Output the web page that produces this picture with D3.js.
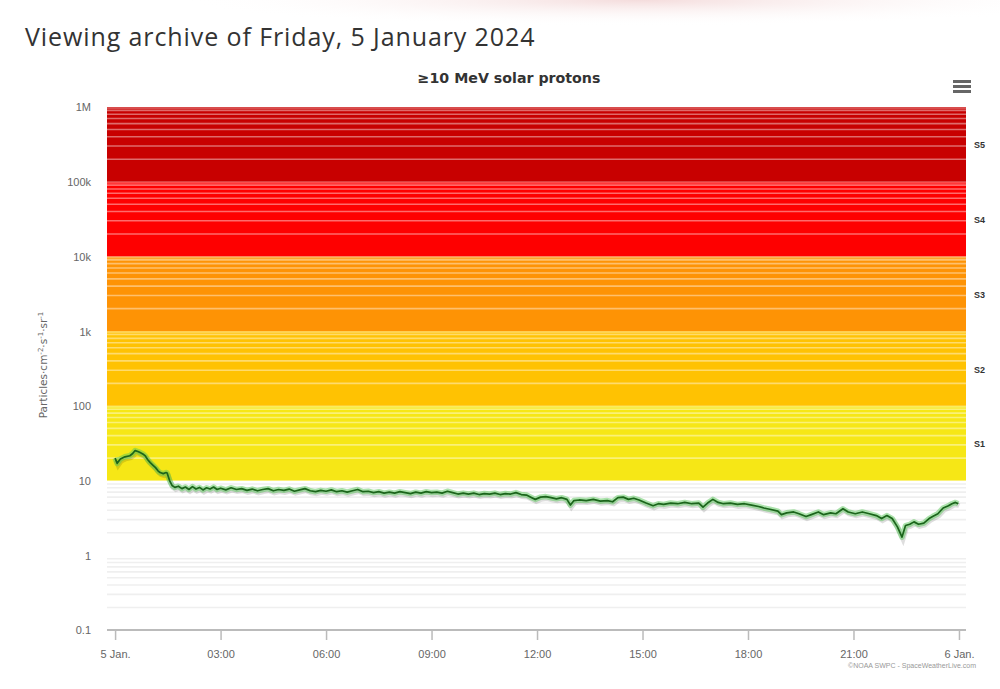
<!DOCTYPE html>
<html>
<head>
<meta charset="utf-8">
<script src="https://cdn.jsdelivr.net/npm/d3@7"></script>
<style>
  html, body { margin: 0; padding: 0; background: #fff; }
  svg { display: block; }
</style>
</head>
<body>
<svg id="chart" width="1000" height="689"></svg>
<script>
// ---- data ----
const pageTitle = "Viewing archive of Friday, 5 January 2024";
const chartTitle = "≥10 MeV solar protons";
const yAxisTitleParts = [["Particles·cm", false], ["-2", true], ["·s", false], ["-1", true], ["·sr", false], ["-1", true]];
const credit = "©NOAA SWPC - SpaceWeatherLive.com";

const yTickValues = [0.1, 1, 10, 100, 1000, 10000, 100000, 1000000];
const yTickLabels = ["0.1", "1", "10", "100", "1k", "10k", "100k", "1M"];

const xTickHours = [0, 3, 6, 9, 12, 15, 18, 21, 24];
const xTickLabels = ["5 Jan.", "03:00", "06:00", "09:00", "12:00", "15:00", "18:00", "21:00", "6 Jan."];

const zoneNames = ["S1", "S2", "S3", "S4", "S5"];
const zoneLow = [10, 100, 1000, 10000, 100000];
const zoneHigh = [100, 1000, 10000, 100000, 1000000];
const zoneColors = ["#f6e716", "#ffc202", "#fe9305", "#fe0000", "#c80000"];

const hours = [0.00,0.06,0.15,0.28,0.42,0.50,0.57,0.65,0.71,0.80,0.85,0.93,1.00,1.08,1.15,1.22,1.28,1.37,1.45,1.48,1.55,1.62,1.70,1.80,1.90,2.00,2.10,2.20,2.30,2.40,2.50,2.60,2.70,2.80,2.90,3.00,3.15,3.30,3.45,3.60,3.75,3.90,4.05,4.20,4.35,4.50,4.65,4.80,4.95,5.10,5.25,5.40,5.55,5.70,5.85,6.00,6.15,6.30,6.45,6.60,6.75,6.90,7.05,7.20,7.35,7.50,7.65,7.80,7.95,8.10,8.25,8.40,8.55,8.70,8.85,9.00,9.15,9.30,9.45,9.60,9.75,9.90,10.05,10.20,10.35,10.50,10.65,10.80,10.95,11.10,11.25,11.40,11.55,11.70,11.85,11.95,12.10,12.25,12.40,12.55,12.70,12.85,12.95,13.05,13.20,13.40,13.60,13.80,14.00,14.15,14.30,14.45,14.60,14.75,14.90,15.10,15.30,15.45,15.60,15.80,16.00,16.20,16.40,16.60,16.72,16.85,17.00,17.15,17.30,17.50,17.70,17.90,18.10,18.30,18.45,18.65,18.85,18.95,19.10,19.30,19.45,19.65,19.80,20.00,20.15,20.35,20.50,20.70,20.85,21.05,21.25,21.45,21.65,21.80,21.95,22.10,22.25,22.38,22.48,22.60,22.72,22.85,23.00,23.15,23.25,23.40,23.55,23.70,23.80,23.90,23.98];
const flux = [20.0,17.0,19.5,20.8,21.5,23.0,25.2,24.5,23.7,22.5,21.6,19.0,17.4,16.0,14.9,13.5,12.8,12.4,12.8,12.6,10.0,8.6,8.1,8.4,7.8,8.2,7.6,8.3,7.7,8.1,7.5,8.0,7.7,8.2,7.6,7.9,7.5,8.0,7.6,7.8,7.4,7.7,7.3,7.6,7.8,7.3,7.6,7.4,7.7,7.2,7.5,7.8,7.3,7.1,7.4,7.2,7.5,7.1,7.3,7.0,7.3,7.6,7.1,7.2,6.9,7.1,6.8,7.0,6.8,7.1,6.9,6.7,7.0,6.8,7.1,6.9,7.0,6.8,7.2,6.9,6.6,6.8,6.6,6.8,6.5,6.7,6.6,6.8,6.5,6.7,6.6,6.9,6.5,6.4,5.9,5.6,6.0,6.1,5.9,5.7,5.9,5.6,4.7,5.4,5.5,5.4,5.6,5.3,5.4,5.2,5.9,6.0,5.6,5.8,5.5,5.0,4.6,4.9,4.8,5.0,4.9,5.1,4.9,5.0,4.4,5.0,5.6,5.1,4.9,5.0,4.8,4.9,4.7,4.5,4.3,4.1,3.9,3.5,3.7,3.8,3.6,3.3,3.5,3.8,3.5,3.7,3.6,4.2,3.8,3.6,3.8,3.6,3.4,3.1,3.4,3.1,2.4,1.75,2.5,2.6,2.8,2.6,2.7,3.1,3.3,3.6,4.3,4.6,4.9,5.1,4.9];

// ---- layout ----
const svg = d3.select("#chart");
const plot = { left: 107, right: 966, top: 107, bottom: 630 };
const sans = "'Liberation Sans', Arial, sans-serif";
const wide = "'DejaVu Sans', Verdana, sans-serif";

const x = d3.scaleLinear().domain([-0.23, 24.2]).range([plot.left, plot.right]);
const y = d3.scaleLog().domain([0.1, 1000000]).range([plot.bottom, plot.top]);

// faint background blob at top (screenshot artifact)
const defs = svg.append("defs");
const rg = defs.append("radialGradient").attr("id", "blob");
rg.append("stop").attr("offset", "0%").attr("stop-color", "#f3d8d8").attr("stop-opacity", 0.9);
rg.append("stop").attr("offset", "100%").attr("stop-color", "#ffffff").attr("stop-opacity", 0);
svg.append("ellipse").attr("cx", 640).attr("cy", 0).attr("rx", 460).attr("ry", 26).attr("fill", "url(#blob)");

// page title
svg.append("text").attr("x", 25).attr("y", 46)
  .attr("font-family", "'Open Sans', 'Noto Sans', sans-serif")
  .attr("font-size", 25).attr("letter-spacing", 0.9).attr("fill", "#333").text(pageTitle);

// chart title
svg.append("text").attr("x", 509).attr("y", 83).attr("text-anchor", "middle")
  .attr("font-family", wide).attr("font-weight", "bold")
  .attr("font-size", 14.2).attr("fill", "#333").text(chartTitle);

// hamburger menu
const menu = svg.append("g").attr("transform", "translate(953,80)");
[0, 5, 10].forEach(d => menu.append("rect").attr("x", 0).attr("y", d).attr("width", 18).attr("height", 3).attr("fill", "#666"));

// zone bands
const gz = svg.append("g");
zoneNames.forEach((n, i) => {
  gz.append("rect")
    .attr("x", plot.left).attr("width", plot.right - plot.left)
    .attr("y", y(zoneHigh[i])).attr("height", y(zoneLow[i]) - y(zoneHigh[i]))
    .attr("fill", zoneColors[i]);
});

// minor grid lines
const minor = [];
for (let e = -1; e < 6; e++) {
  for (let m = 2; m <= 9; m++) minor.push(m * Math.pow(10, e));
}
const gg = svg.append("g");
gg.selectAll("line.minor").data(minor).join("line")
  .attr("x1", plot.left).attr("x2", plot.right)
  .attr("y1", d => y(d)).attr("y2", d => y(d))
  .attr("stroke", d => d >= 10 ? "#ffffff" : "#efefef")
  .attr("stroke-opacity", d => d >= 10 ? 0.42 : 1)
  .attr("stroke-width", 1.6);
gg.selectAll("line.major").data(yTickValues.filter(v => v > 10)).join("line")
  .attr("x1", plot.left).attr("x2", plot.right)
  .attr("y1", d => y(d) + 1).attr("y2", d => y(d) + 1)
  .attr("stroke", "#ffffff").attr("stroke-opacity", 0.3).attr("stroke-width", 2);

// zone labels
zoneNames.forEach((n, i) => {
  svg.append("text")
    .attr("x", 974).attr("y", y(Math.sqrt(zoneLow[i] * zoneHigh[i])) + 4)
    .attr("font-family", sans).attr("font-weight", "bold")
    .attr("font-size", 9).attr("fill", "#333").text(n);
});

// y axis labels
const yAxis = d3.axisLeft(y).tickValues(yTickValues)
  .tickFormat((d, i) => yTickLabels[i]).tickSize(0).tickPadding(0);
const gy = svg.append("g").attr("transform", `translate(${plot.left - 16},0)`).call(yAxis);
gy.select(".domain").remove();
gy.selectAll("text").attr("font-family", sans)
  .attr("font-size", 11).attr("fill", "#666").attr("dy", "0.35em");

// y axis title
const yt = svg.append("text")
  .attr("transform", `translate(47,365) rotate(-90)`)
  .attr("text-anchor", "middle")
  .attr("font-family", wide)
  .attr("font-size", 10.5).attr("fill", "#666");
yAxisTitleParts.forEach(([t, sup]) => {
  const ts = yt.append("tspan").text(t);
  if (sup) ts.attr("font-size", 7).attr("dy", -4);
  else ts.attr("dy", yt.selectAll("tspan").size() > 1 ? 4 : 0);
});

// x axis
const xAxis = d3.axisBottom(x).tickValues(xTickHours)
  .tickFormat((d, i) => xTickLabels[i]).tickSize(10).tickSizeOuter(0).tickPadding(10);
const gx = svg.append("g").attr("transform", `translate(0,${plot.bottom})`).call(xAxis);
gx.select(".domain").attr("stroke", "#bbbbbb").attr("stroke-width", 2)
  .attr("d", `M${plot.left},0H${plot.right}`);
gx.selectAll(".tick line").attr("stroke", "#bbbbbb").attr("stroke-width", 1.5);
gx.selectAll("text").attr("font-family", sans)
  .attr("font-size", 11).attr("fill", "#666");

// data line
const pts = hours.map((h, i) => [h, flux[i]]);
const line = d3.line().x(d => x(d[0])).y(d => y(d[1]));
svg.append("path").datum(pts).attr("d", line)
  .attr("fill", "none").attr("stroke", "#000").attr("stroke-opacity", 0.13)
  .attr("stroke-width", 5).attr("transform", "translate(1,2)");
svg.append("path").datum(pts).attr("d", line)
  .attr("fill", "none").attr("stroke", "#5ac85a").attr("stroke-opacity", 0.5)
  .attr("stroke-width", 5.5).attr("stroke-linejoin", "round");
svg.append("path").datum(pts).attr("d", line)
  .attr("fill", "none").attr("stroke", "#1b651b")
  .attr("stroke-width", 1.7).attr("stroke-linejoin", "round");

// credit
svg.append("text").attr("x", 976).attr("y", 668).attr("text-anchor", "end")
  .attr("font-family", sans)
  .attr("font-size", 7).attr("fill", "#999").text(credit);
</script>
</body>
</html>
